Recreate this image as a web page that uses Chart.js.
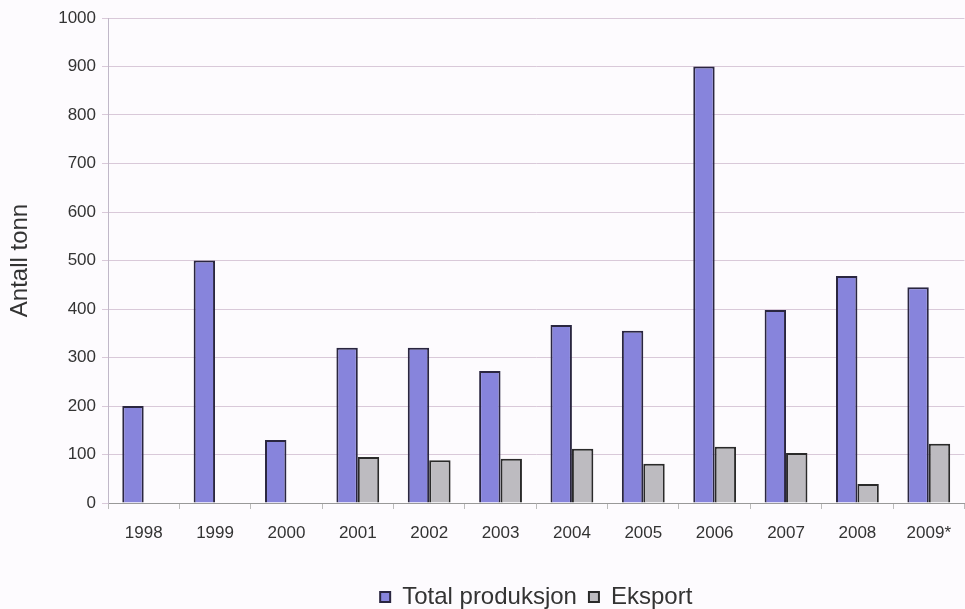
<!DOCTYPE html>
<html>
<head>
<meta charset="utf-8">
<script src="https://cdn.jsdelivr.net/npm/chart.js@4/dist/chart.umd.min.js"></script>
<style>
	html, body { margin: 0; padding: 0; background: #fdfbfe; }
	#wrap { width: 965px; height: 609px; }
</style>
</head>
<body>
<div id="wrap"><canvas id="c" width="965" height="609"></canvas></div>
<script>
// data
const years = ["1998", "1999", "2000", "2001", "2002", "2003", "2004", "2005", "2006", "2007", "2008", "2009*"];
const totalProduksjon = [200, 500, 130, 320, 320, 272, 367, 355, 900, 398, 468, 445];
const eksport = [null, null, null, 95, 88, 91, 112, 81, 116, 103, 39, 122];
const yTicks = [0, 100, 200, 300, 400, 500, 600, 700, 800, 900, 1000];

const family = "Liberation Sans, Arial, sans-serif";
const tickFont = { family: family, size: 17 };

const chart = new Chart(document.getElementById("c"), {
	type: "bar",
	data: {
		labels: years,
		datasets: [
			{
				label: "Total produksjon",
				data: totalProduksjon,
				backgroundColor: "#8784dc",
				borderColor: "#2a2640",
				borderWidth: 2,
				categoryPercentage: 0.6,
				barPercentage: 1.0
			},
			{
				label: "Eksport",
				data: eksport,
				backgroundColor: "#bdbbc0",
				borderColor: "#2a2a2a",
				borderWidth: 2,
				categoryPercentage: 0.6,
				barPercentage: 1.0
			}
		]
	},
	options: {
		responsive: false,
		animation: false,
		layout: { padding: { top: 18, right: 0, left: 0, bottom: 0 } },
		plugins: {
			legend: {
				position: "bottom",
				fullSize: false,
				labels: {
					font: { family: family, size: 24 },
					color: "#333",
					boxWidth: 10,
					boxHeight: 10,
					padding: 12,
					useBorderRadius: false
				}
			},
			tooltip: { enabled: false }
		},
		scales: {
			x: {
				grid: {
					display: true,
					drawOnChartArea: false,
					offset: true,
					tickLength: 6,
					color: "#bbb"
				},
				border: { color: "#999" },
				ticks: { font: tickFont, color: "#333", padding: 14 },
				afterFit: function (scale) { scale.height = 70; }
			},
			y: {
				min: 0,
				max: 1000,
				afterBuildTicks: function (scale) {
					scale.ticks = yTicks.map(v => ({ value: v }));
				},
				grid: { color: "#d9c9d9", tickLength: 6 },
				border: { color: "#c0b8c8" },
				ticks: {
					font: tickFont,
					color: "#333",
					padding: 6,
					callback: v => String(v)
				},
				title: {
					display: true,
					text: "Antall tonn",
					font: { family: family, size: 24 },
					color: "#333",
					padding: { top: 6, bottom: 0 }
				},
				afterFit: function (scale) { scale.width = 108; }
			}
		}
	}
});

// legend sits lower in the reference, so trim its box height
const legendFit = chart.legend.fit;
chart.legend.fit = function () {
	legendFit.call(this);
	this.height = 36;
};
chart.update();
</script>
</body>
</html>
